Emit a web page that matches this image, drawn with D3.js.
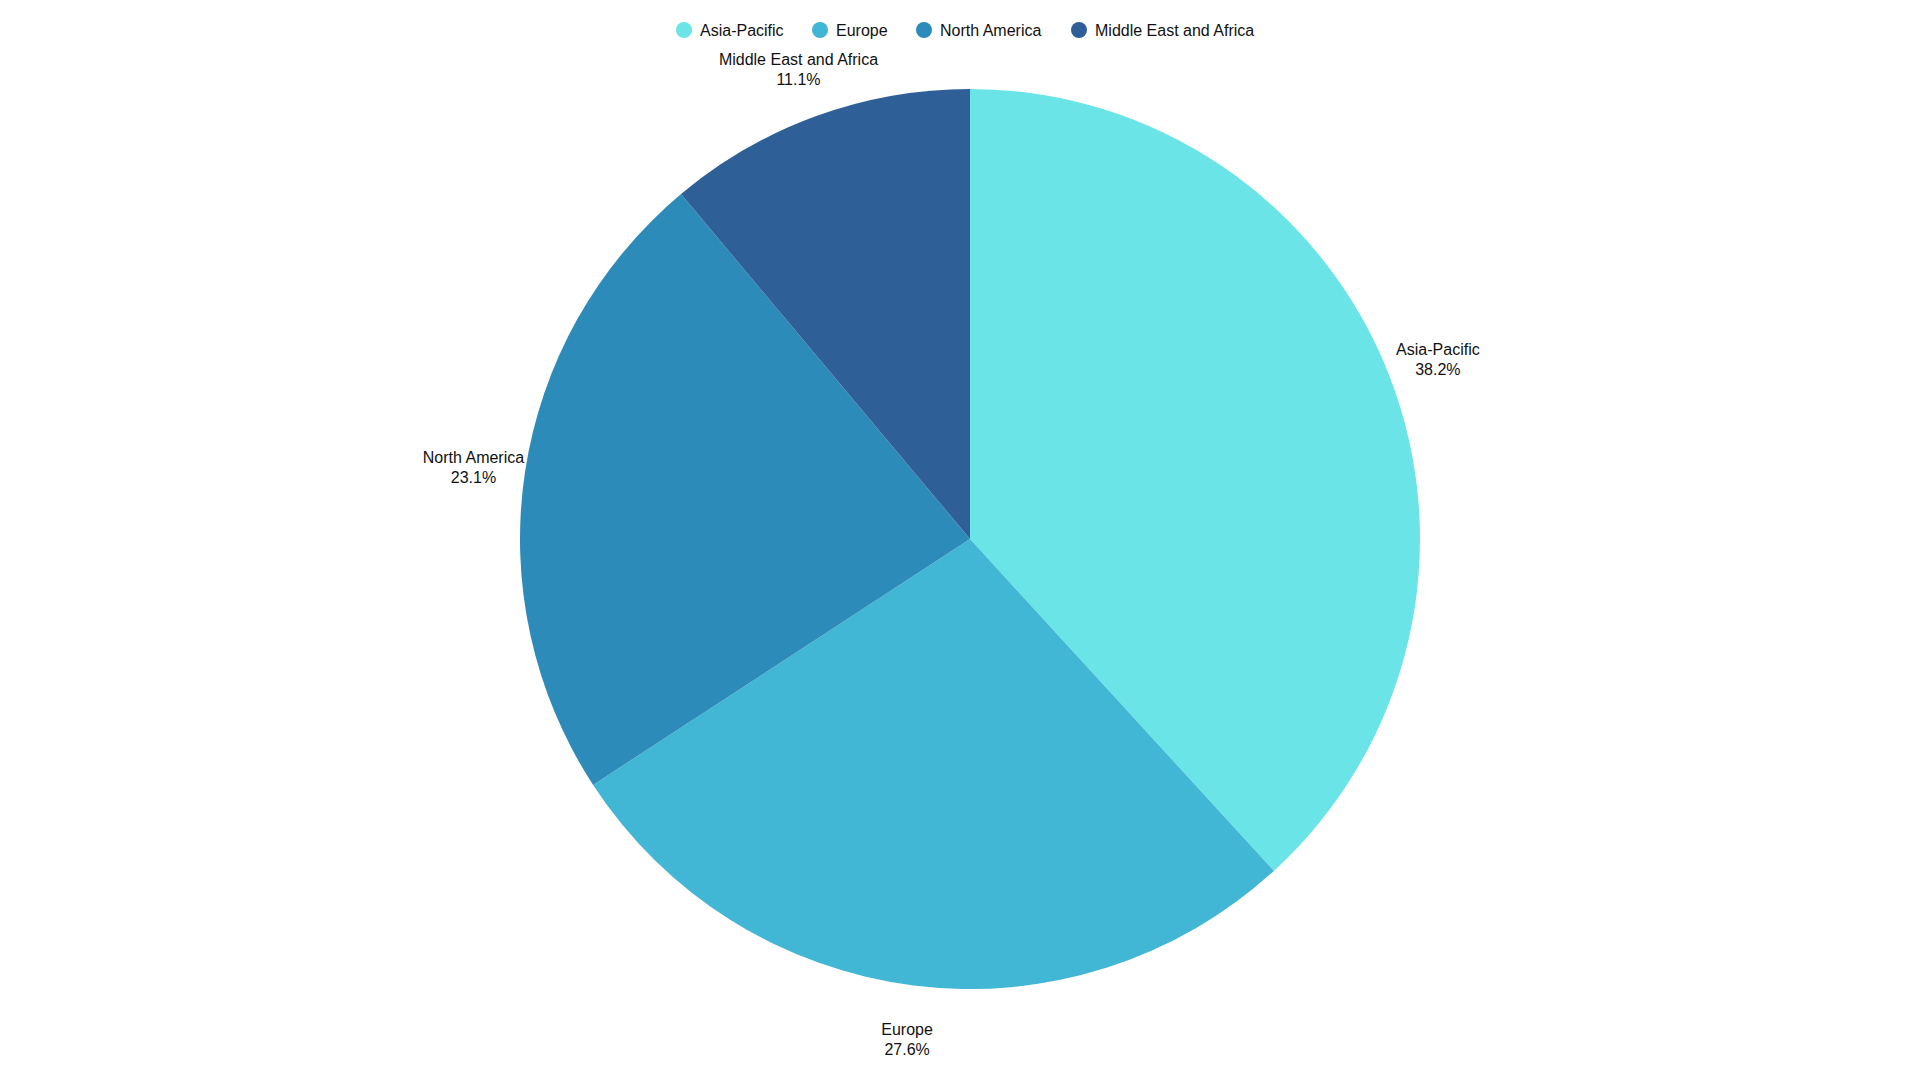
<!DOCTYPE html>
<html><head><meta charset="utf-8">
<script src="https://cdn.jsdelivr.net/npm/d3@7"></script>
<style>body{margin:0;background:#fff;font-family:"Liberation Sans",Arial,sans-serif}</style>
</head><body><svg id="c" width="1920" height="1080"></svg>
<script>
const categories = ["Asia-Pacific","Europe","North America","Middle East and Africa"];
const values = [38.2, 27.6, 23.1, 11.1];
const colors = ["#6be4e8","#42b6d5","#2d8bba","#2e5f96"];

const svg = d3.select("#c");
const cx = 970, cy = 539, r = 450;
const color = d3.scaleOrdinal().domain(categories).range(colors);
const pie = d3.pie().sort(null).value(d => d.v);
const data = pie(categories.map((c,i)=>({c, v: values[i]})));
const arc = d3.arc().innerRadius(0).outerRadius(r);
const labelArc = d3.arc().innerRadius(r+52).outerRadius(r+52);
const g = svg.append("g").attr("transform",`translate(${cx},${cy})`);
g.selectAll("path").data(data).join("path").attr("d",arc).attr("fill",d=>color(d.data.c));
const lab = g.selectAll("text").data(data).join("text")
  .attr("transform",d=>`translate(${labelArc.centroid(d)})`)
  .attr("text-anchor","middle").attr("font-size",16).attr("fill","#111");
lab.append("tspan").attr("x",0).attr("dy","-0.15em").text(d=>d.data.c);
lab.append("tspan").attr("x",0).attr("dy","1.25em").text(d=>d.data.v.toFixed(1)+"%");

const legX = [684, 820, 924, 1079];
const leg = svg.append("g").selectAll("g").data(categories).join("g")
  .attr("transform",(d,i)=>`translate(${legX[i]},30)`);
leg.append("circle").attr("r",8).attr("fill",d=>color(d));
leg.append("text").attr("x",16).attr("dy","0.35em").attr("font-size",16).attr("fill","#111").text(d=>d);
</script></body></html>
